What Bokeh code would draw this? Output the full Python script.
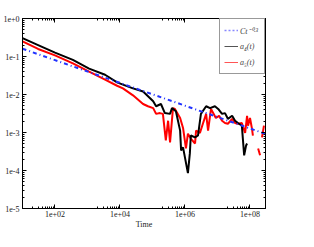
from bokeh.plotting import figure
from bokeh.models import LogAxis, FixedTicker, CustomJSTickFormatter, Range1d, Legend, LegendItem
from bokeh.embed import file_html
from bokeh.resources import INLINE

# ---- data ----
t_fit = [10, 3e8]
fit = [0.16, 0.00092]

t4 = [10, 30.2, 100, 355, 1120, 3470, 8130, 12300, 25100, 51300, 105000, 129000,
      182000, 240000, 347000, 398000, 525000, 708000, 759000, 871000, 1.23e6, 1.41e6,
      1.51e6, 2.04e6, 2.51e6, 3.09e6, 4.47e6, 5.89e6, 8.32e6, 1.05e7, 1.38e7, 1.70e7,
      2.09e7, 2.82e7, 3.47e7, 4.27e7, 5.62e7, 6.03e7, 6.61e7, 7.59e7, 8.13e7]
a4 = [0.303, 0.200, 0.126, 0.0813, 0.0479, 0.0331, 0.0209, 0.0182, 0.0145, 0.0120,
      0.00661, 0.00490, 0.00562, 0.00324, 0.00309, 0.00437, 0.00363, 0.00112,
      0.000339, 0.000407, 0.0000851, 0.000282, 0.000832, 0.000741, 0.000832,
      0.00309, 0.00490, 0.00437, 0.00490, 0.00417, 0.00309, 0.00324, 0.00229,
      0.00275, 0.00204, 0.00178, 0.00151, 0.000692, 0.000251, 0.000457, 0.000513]

t5 = [10, 30.2, 100, 355, 1120, 3470, 8130, 12300, 25100, 51300, 72400, 105000,
      129000, 170000, 209000, 257000, 302000, 347000, 427000, 490000, 708000, 871000,
      1.07e6, 1.23e6, 1.51e6, 2.04e6, 2.19e6, 2.88e6, 3.55e6, 4.47e6, 5.13e6, 6.31e6,
      8.91e6, 1.12e7, 1.38e7, 1.70e7, 2.09e7, 2.82e7, 3.47e7, 4.27e7, 5.62e7, 7.08e7,
      8.13e7, 8.71e7, 1.0e8, 1.15e8, 1.23e8, 1.5e8, 1.78e8, 2.04e8, 2.2e8, 2.34e8, 2.69e8]
a5 = [0.251, 0.158, 0.107, 0.0661, 0.0398, 0.0245, 0.0170, 0.0145, 0.00950, 0.00562,
      0.0049, 0.00437, 0.00309, 0.00324, 0.00309, 0.000617, 0.00204, 0.000550,
      0.00437, 0.00417, 0.0024, 0.00132, 0.00038, 0.000933, 0.000692, 0.000513,
      0.00112, 0.000977, 0.0017, 0.00309, 0.00112, 0.00417, 0.0024, 0.00275, 0.00204,
      0.00178, 0.0017, 0.00229, 0.00178, 0.0017, 0.00178, 0.000977, 0.00275, 0.00151,
      0.0024, 0.00126, 0.000832, float("nan"), 0.00038, 0.000251, float("nan"),
      0.000741, 0.00151]

x_major = [1e2, 1e4, 1e6, 1e8]
y_major = [1e-5, 1e-4, 1e-3, 1e-2, 1e-1, 1e0]
legend_labels = ["Ct⁻⁰·³", "a₄(t)", "a₅(t)"]

FONT = "Liberation Serif"

p = figure(width=298, height=231, x_axis_type="log", y_axis_type="log",
           x_range=Range1d(10, 3e8), y_range=Range1d(1e-5, 1),
           output_backend="svg", toolbar_location=None,
           min_border_left=21, min_border_right=33, min_border_top=18, min_border_bottom=20)
p.grid.visible = False
p.outline_line_color = "black"
p.outline_line_width = 1
p.background_fill_color = "white"
p.border_fill_color = "white"

x_minor = [k * m / 10 for m in x_major for k in range(2, 10)]
y_minor = [k * m for m in y_major[:-1] for k in range(2, 10)]

xfmt = CustomJSTickFormatter(code="""
const e = Math.round(Math.log10(tick));
return "1e+" + (e < 10 ? "0" : "") + e;
""")
yfmt = CustomJSTickFormatter(code="""
const e = Math.round(Math.log10(tick));
return "1e" + (e >= 0 ? "+" : "") + e;
""")
blank = CustomJSTickFormatter(code="return '';")

def style(ax):
    ax.major_tick_in = 4
    ax.major_tick_out = 0
    ax.minor_tick_in = 2
    ax.minor_tick_out = 0
    ax.axis_line_color = "black"
    ax.major_tick_line_color = "black"
    ax.minor_tick_line_color = "black"
    ax.major_label_text_font = FONT
    ax.major_label_text_font_size = "8px"
    ax.major_label_text_color = "#222222"
    ax.major_label_standoff = 2

xa = p.xaxis[0]
xa.ticker = FixedTicker(ticks=x_major, minor_ticks=x_minor)
xa.formatter = xfmt
style(xa)
xa.axis_label = "Time"
xa.axis_label_text_font = FONT
xa.axis_label_text_font_size = "8px"
xa.axis_label_text_font_style = "normal"
xa.axis_label_text_color = "#222222"
xa.axis_label_standoff = 0

ya = p.yaxis[0]
ya.ticker = FixedTicker(ticks=y_major, minor_ticks=y_minor)
ya.formatter = yfmt
style(ya)
ya.major_label_standoff = 3

top = LogAxis(ticker=FixedTicker(ticks=x_major, minor_ticks=x_minor), formatter=blank)
style(top)
top.major_label_standoff = 0
p.add_layout(top, "above")
right = LogAxis(ticker=FixedTicker(ticks=y_major, minor_ticks=y_minor), formatter=blank)
style(right)
right.major_label_standoff = 0
p.add_layout(right, "right")

p.line(t5, a5, line_color="#ff0000", line_width=2)
p.line(t4, a4, line_color="#000000", line_width=2)
p.line(t_fit, fit, line_color="#2233ff", line_width=2, line_dash="4 3 1 3")

# legend proxies (thin lines as in the reference legend), drawn off-range
offx = [1e9, 2e9]
offy = [1e3, 1e3]
l1 = p.line(offx, offy, line_color="#8888ff", line_width=1.5, line_dash="2 2")
l2 = p.line(offx, offy, line_color="#555555", line_width=1)
l3 = p.line(offx, offy, line_color="#ff5555", line_width=1)

legend = Legend(items=[LegendItem(label=legend_labels[0], renderers=[l1]),
                       LegendItem(label=legend_labels[1], renderers=[l2]),
                       LegendItem(label=legend_labels[2], renderers=[l3])],
                location="top_right", margin=0, padding=4, spacing=2,
                label_text_font=FONT, label_text_font_size="8px",
                label_text_font_style="italic", label_height=14, glyph_height=14,
                glyph_width=14, label_standoff=2,
                border_line_color="#333333", border_line_width=1,
                background_fill_color="white", background_fill_alpha=1)
p.add_layout(legend)

open("out.html", "w").write(file_html(p, INLINE))
